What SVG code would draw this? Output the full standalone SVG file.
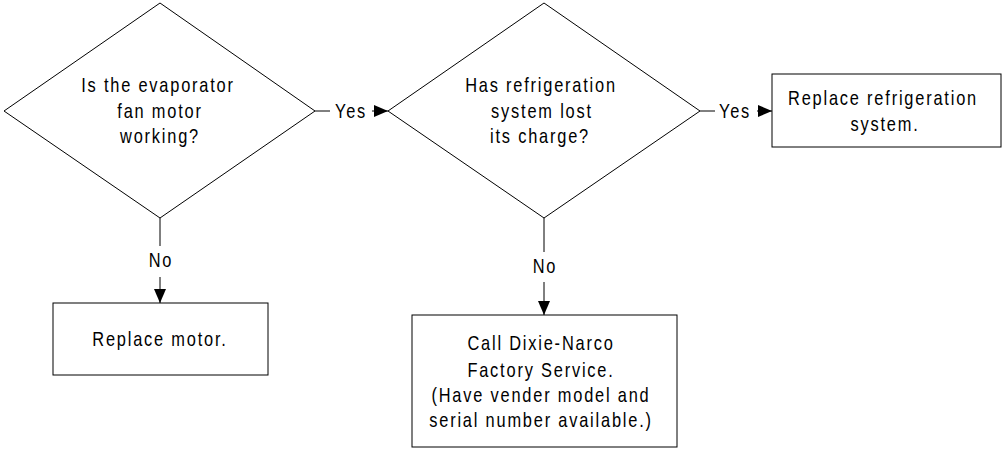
<svg xmlns="http://www.w3.org/2000/svg" width="1002" height="449" viewBox="0 0 1002 449">
<style>
.shape{fill:#fff;stroke:#000;stroke-width:1}
.line{fill:none;stroke:#000;stroke-width:1}
text{font-family:"Liberation Sans",Arial,sans-serif;font-size:20px;letter-spacing:2.2px;fill:#000;text-anchor:middle}
</style>
<defs>
<marker id="arr" viewBox="0 0 14 12" refX="14" refY="6" markerWidth="14" markerHeight="12" markerUnits="userSpaceOnUse" orient="auto">
<path d="M0,0 L14,6 L0,12 Z" fill="#000"/>
</marker>
</defs>
<rect width="1002" height="449" fill="#fff"/>
<g id="connectors">
<line class="line" x1="315" y1="111" x2="330" y2="111"/>
<text transform="translate(351,118) scale(0.82,1)">Yes</text>
<line class="line" x1="372" y1="111" x2="388" y2="111" marker-end="url(#arr)"/>
<line class="line" x1="700" y1="111" x2="715" y2="111"/>
<text transform="translate(735,118) scale(0.82,1)">Yes</text>
<line class="line" x1="757" y1="111" x2="772" y2="111" marker-end="url(#arr)"/>
<line class="line" x1="160" y1="218" x2="160" y2="246"/>
<text transform="translate(161,267) scale(0.82,1)">No</text>
<line class="line" x1="160" y1="277" x2="160" y2="303" marker-end="url(#arr)"/>
<line class="line" x1="544" y1="218" x2="544" y2="252"/>
<text transform="translate(545,273) scale(0.82,1)">No</text>
<line class="line" x1="544" y1="282" x2="544" y2="315" marker-end="url(#arr)"/>
</g>
<g id="d1">
<polygon class="shape" points="160,3 315,111 160,218 4,111"/>
<text transform="translate(158,92) scale(0.82,1)">Is the evaporator</text>
<text transform="translate(160,118) scale(0.82,1)">fan motor</text>
<text transform="translate(160,143) scale(0.82,1)">working?</text>
</g>
<g id="d2">
<polygon class="shape" points="544,3 700,111 544,218 388,111"/>
<text transform="translate(541,92) scale(0.82,1)">Has refrigeration</text>
<text transform="translate(542,118) scale(0.82,1)">system lost</text>
<text transform="translate(540,143) scale(0.82,1)">its charge?</text>
</g>
<g id="b1">
<rect class="shape" x="772" y="74" width="229" height="73"/>
<text transform="translate(883,105) scale(0.82,1)">Replace refrigeration</text>
<text transform="translate(885,131) scale(0.82,1)">system.</text>
</g>
<g id="b2">
<rect class="shape" x="53" y="303" width="215" height="72"/>
<text transform="translate(160,346) scale(0.82,1)">Replace motor.</text>
</g>
<g id="b3">
<rect class="shape" x="412" y="315" width="265" height="132"/>
<text transform="translate(541,350) scale(0.82,1)">Call Dixie-Narco</text>
<text transform="translate(541,377) scale(0.82,1)">Factory Service.</text>
<text transform="translate(541,402) scale(0.82,1)">(Have vender model and</text>
<text transform="translate(541,427) scale(0.82,1)">serial number available.)</text>
</g>
</svg>
